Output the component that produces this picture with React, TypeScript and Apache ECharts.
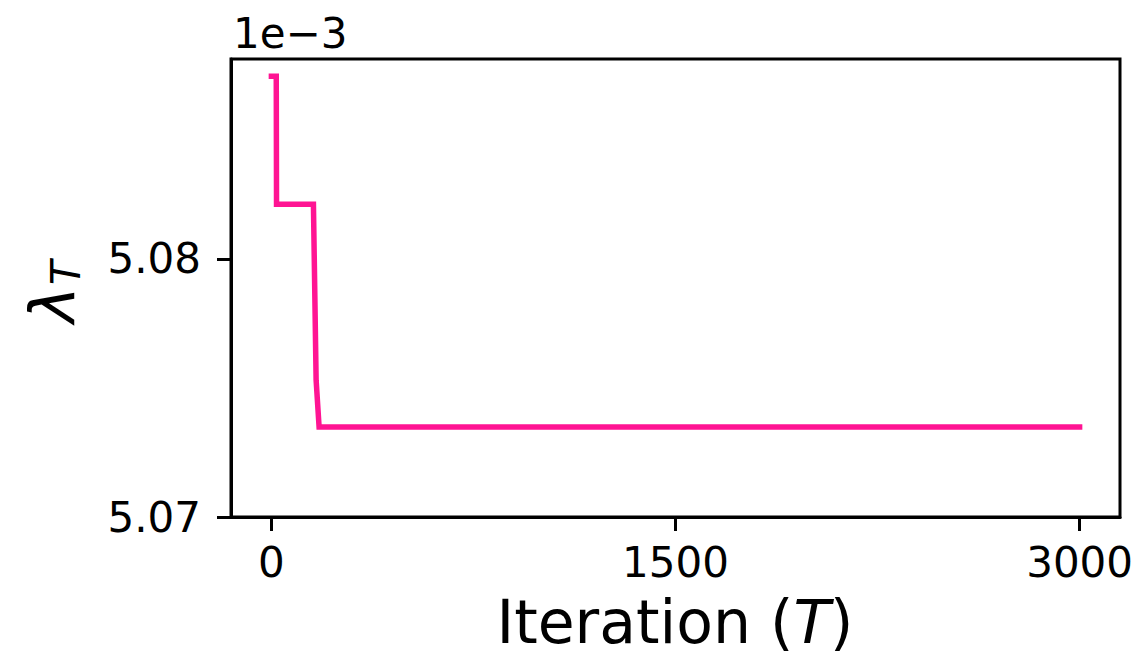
import React, { useEffect, useRef } from "react";
import * as echarts from "echarts";

const iterations = [0, 18, 19, 156, 166, 177, 3000];
const lambdaVals = [5.08708, 5.08708, 5.08212, 5.08212, 5.0753, 5.07349, 5.07349];
const xTicks = [0, 1500, 3000];
const yTicks = [5.07, 5.08];

const FONT = "DejaVu Sans";

export default function App() {
  const ref = useRef<HTMLDivElement>(null);
  useEffect(() => {
    if (!ref.current) return;
    const chart = echarts.init(ref.current, null, { renderer: "svg" });
    const data = iterations.map((t, i) => [t, lambdaVals[i]]);
    chart.setOption({
      animation: false,
      backgroundColor: "#ffffff",
      grid: {
        left: 231,
        right: 23,
        top: 59,
        bottom: 142,
        show: true,
        borderColor: "#000",
        borderWidth: 3,
        backgroundColor: "transparent",
      },
      xAxis: {
        type: "value",
        min: -150,
        max: 3150,
        splitLine: { show: false },
        axisLine: { show: true, onZero: false, lineStyle: { color: "#000", width: 3 } },
        axisTick: {
          show: true,
          length: 14,
          customValues: xTicks,
          lineStyle: { color: "#000", width: 3 },
        },
        axisLabel: {
          customValues: xTicks,
          margin: 24,
          fontFamily: FONT,
          fontSize: 42,
          color: "#000",
          formatter: (v: number) => String(v),
        },
      },
      yAxis: {
        type: "value",
        min: 5.07,
        max: 5.08775,
        splitLine: { show: false },
        axisLine: { show: true, onZero: false, lineStyle: { color: "#000", width: 3 } },
        axisTick: {
          show: true,
          length: 14,
          customValues: yTicks,
          lineStyle: { color: "#000", width: 3 },
        },
        axisLabel: {
          customValues: yTicks,
          margin: 30,
          fontFamily: FONT,
          fontSize: 42,
          color: "#000",
          formatter: (v: number) => v.toFixed(2),
        },
      },
      series: [
        {
          type: "line",
          data,
          showSymbol: false,
          symbol: "none",
          lineStyle: { color: "#ff1493", width: 5.5, cap: "square", join: "miter" },
        },
      ],
      graphic: [
        {
          type: "text",
          left: 233,
          top: 12,
          style: {
            text: "1e\u22123",
            font: `42px '${FONT}'`,
            fill: "#000",
          },
        },
        {
          type: "text",
          x: 675,
          y: 622,
          style: {
            text: "{n|Iteration (}{i|T}{n|)}",
            textAlign: "center",
            textVerticalAlign: "middle",
            rich: {
              n: { fontFamily: FONT, fontSize: 60, fill: "#000" },
              i: { fontFamily: FONT, fontSize: 60, fontStyle: "italic", fill: "#000" },
            },
          },
        },
        {
          type: "group",
          x: 0,
          y: 289,
          rotation: Math.PI / 2,
          children: [
            {
              type: "text",
              x: -34,
              y: 52,
              style: {
                text: "\u03bb",
                fontFamily: FONT,
                fontSize: 62,
                fontStyle: "italic",
                fill: "#000",
                textAlign: "left",
                textVerticalAlign: "middle",
              },
            },
            {
              type: "text",
              x: 4,
              y: 66,
              style: {
                text: "T",
                fontFamily: FONT,
                fontSize: 40,
                fontStyle: "italic",
                fill: "#000",
                textAlign: "left",
                textVerticalAlign: "middle",
              },
            },
          ],
        },
      ],
    });
    return () => chart.dispose();
  }, []);
  return (
    <div
      ref={ref}
      style={{ position: "fixed", left: 0, top: 0, width: 1143, height: 659, background: "#fff" }}
    />
  );
}
